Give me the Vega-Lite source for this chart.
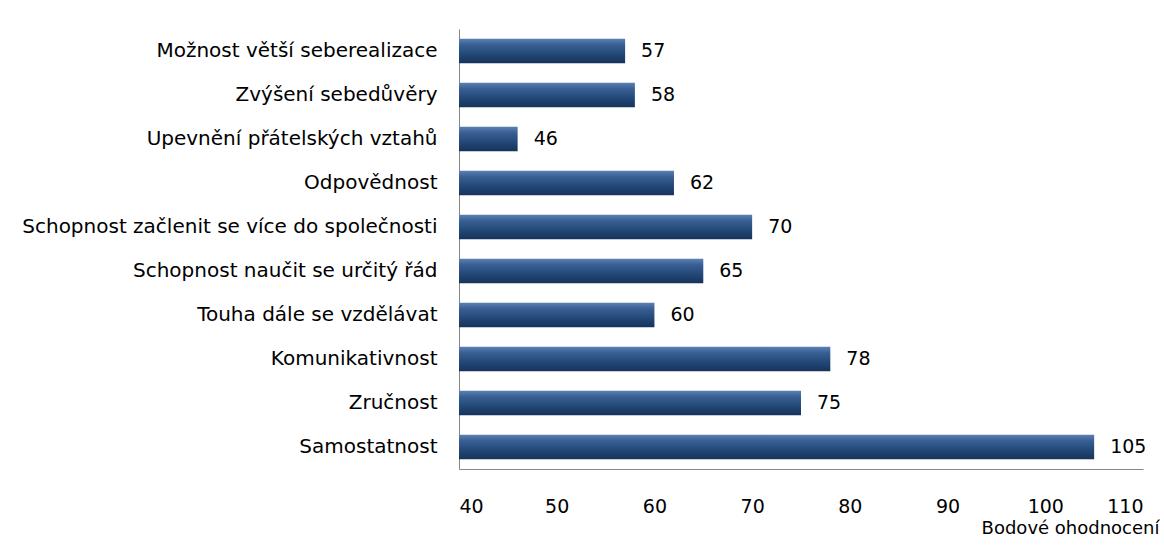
{
  "$schema": "https://vega.github.io/schema/vega-lite/v6.json",
  "width": 684,
  "height": 440,
  "autosize": {"type": "none"},
  "padding": {"left": 459, "top": 29, "right": 21, "bottom": 86},
  "background": "white",
  "config": {
    "font": "DejaVu Sans",
    "view": {"stroke": null}
  },
  "data": {
    "values": [
      {"kategorie": "Možnost větší seberealizace", "hodnota": 57},
      {"kategorie": "Zvýšení sebedůvěry", "hodnota": 58},
      {"kategorie": "Upevnění přátelských vztahů", "hodnota": 46},
      {"kategorie": "Odpovědnost", "hodnota": 62},
      {"kategorie": "Schopnost začlenit se více do společnosti", "hodnota": 70},
      {"kategorie": "Schopnost naučit se určitý řád", "hodnota": 65},
      {"kategorie": "Touha dále se vzdělávat", "hodnota": 60},
      {"kategorie": "Komunikativnost", "hodnota": 78},
      {"kategorie": "Zručnost", "hodnota": 75},
      {"kategorie": "Samostatnost", "hodnota": 105}
    ]
  },
  "encoding": {
    "y": {
      "field": "kategorie",
      "type": "nominal",
      "sort": null,
      "scale": {"paddingInner": 0.44, "paddingOuter": 0.22},
      "axis": {
        "title": null,
        "ticks": false,
        "labelPadding": 22,
        "labelFontSize": 20,
        "labelColor": "#000000",
        "labelLimit": 460,
        "domainColor": "#868686",
        "domainWidth": 1
      }
    }
  },
  "layer": [
    {
      "mark": {
        "type": "bar",
        "color": {
          "gradient": "linear",
          "x1": 0, "y1": 0, "x2": 0, "y2": 1,
          "stops": [
            {"offset": 0, "color": "#5b80b6"},
            {"offset": 0.25, "color": "#3a5f93"},
            {"offset": 0.6, "color": "#244a7a"},
            {"offset": 1, "color": "#17325a"}
          ]
        }
      },
      "encoding": {
        "x": {
          "field": "hodnota",
          "type": "quantitative",
          "scale": {"domain": [40, 110], "nice": false, "zero": false},
          "axis": {
            "values": [40, 50, 60, 70, 80, 90, 100, 110],
            "grid": false,
            "ticks": false,
            "labelPadding": 28,
            "labelFontSize": 19,
            "labelColor": "#000000",
            "domainColor": "#868686",
            "title": "Bodové ohodnocení",
            "titleFontSize": 18,
            "titleFontWeight": "normal",
            "titleColor": "#000000",
            "titleAnchor": "end",
            "titleAlign": "right",
            "titleX": 700,
            "titleY": 59,
            "titleBaseline": "middle"
          }
        },
        "x2": {"datum": 40}
      }
    },
    {
      "mark": {"type": "text", "align": "left", "baseline": "middle", "dx": 16, "fontSize": 19, "color": "#000000"},
      "encoding": {
        "x": {"field": "hodnota", "type": "quantitative"},
        "text": {"field": "hodnota", "type": "quantitative"}
      }
    }
  ]
}
